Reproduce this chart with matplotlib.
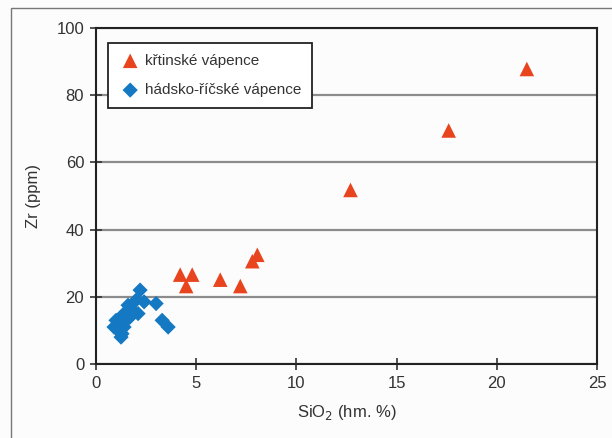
import matplotlib
matplotlib.use("Agg")
import matplotlib.pyplot as plt
from matplotlib.patches import Rectangle

plt.rcParams['font.family'] = ['Liberation Sans', 'DejaVu Sans']

# křtinské vápence (red triangles)
krt_sio2 = [4.2, 4.8, 4.5, 6.2, 7.2, 7.8, 8.05, 12.7, 17.6, 21.5]
krt_zr = [26.6, 26.6, 23.2, 25.1, 23.2, 30.6, 32.5, 51.8, 69.5, 87.8]

# hádsko-říčské vápence (blue diamonds)
had_sio2 = [2.2, 2.0, 2.4, 3.0, 1.6, 1.8, 1.4, 2.1, 1.3, 1.6,
            1.0, 1.2, 0.9, 1.4, 1.1, 1.3, 1.25, 3.3, 3.6, 1.7]
had_zr = [22, 19, 18.5, 18, 17.5, 16, 15, 15, 14, 13.5,
          13, 12, 11, 11, 10, 9, 8, 13, 11, 14]

xticks = [0, 5, 10, 15, 20, 25]
yticks = [0, 20, 40, 60, 80, 100]

fig = plt.figure(figsize=(6.12, 4.38), dpi=100)
fig.patch.set_facecolor('#fcfcfc')

# outer frame of the figure
fig.patches.append(Rectangle((11 / 612, -0.05), 1.0, (438 - 8) / 438 + 0.05,
                             transform=fig.transFigure, fill=False,
                             edgecolor='#777777', linewidth=1.0))

ax = fig.add_axes([96 / 612, (438 - 364) / 438, 501 / 612, 336 / 438])
ax.set_facecolor('#fcfcfc')

ax.yaxis.grid(True, color='#8c8c8c', linewidth=1.6)
ax.set_axisbelow(True)

ax.scatter(krt_sio2, krt_zr, marker='^', s=110, color='#e8441e',
           edgecolors='none', label='křtinské vápence', zorder=3)
ax.scatter(had_sio2, had_zr, marker='D', s=60, color='#1479c2',
           edgecolors='none', label='hádsko-říčské vápence', zorder=3)

ax.set_xlim(0, 25)
ax.set_ylim(0, 100)
ax.set_xticks(xticks)
ax.set_yticks(yticks)
ax.tick_params(direction='inout', length=9, width=1.2, labelsize=12,
               colors='#333333', pad=4)
for sp in ax.spines.values():
    sp.set_linewidth(1.5)
    sp.set_color('#222222')

ax.set_xlabel('SiO$_2$ (hm. %)', fontsize=12, color='#333333', labelpad=9)
ax.set_ylabel('Zr (ppm)', fontsize=12, color='#333333', labelpad=11)

leg = ax.legend(loc='upper left', bbox_to_anchor=(0.024, 0.955), fontsize=11,
                frameon=True, fancybox=False, borderpad=0.7,
                labelspacing=1.0, handletextpad=0.2, handlelength=1.5,
                borderaxespad=0)
leg.get_frame().set_edgecolor('#222222')
leg.get_frame().set_linewidth(1.3)
leg.get_frame().set_facecolor('white')
leg.get_frame().set_alpha(1)
for t in leg.get_texts():
    t.set_color('#333333')

fig.savefig('out.png', dpi=100, facecolor=fig.get_facecolor())
